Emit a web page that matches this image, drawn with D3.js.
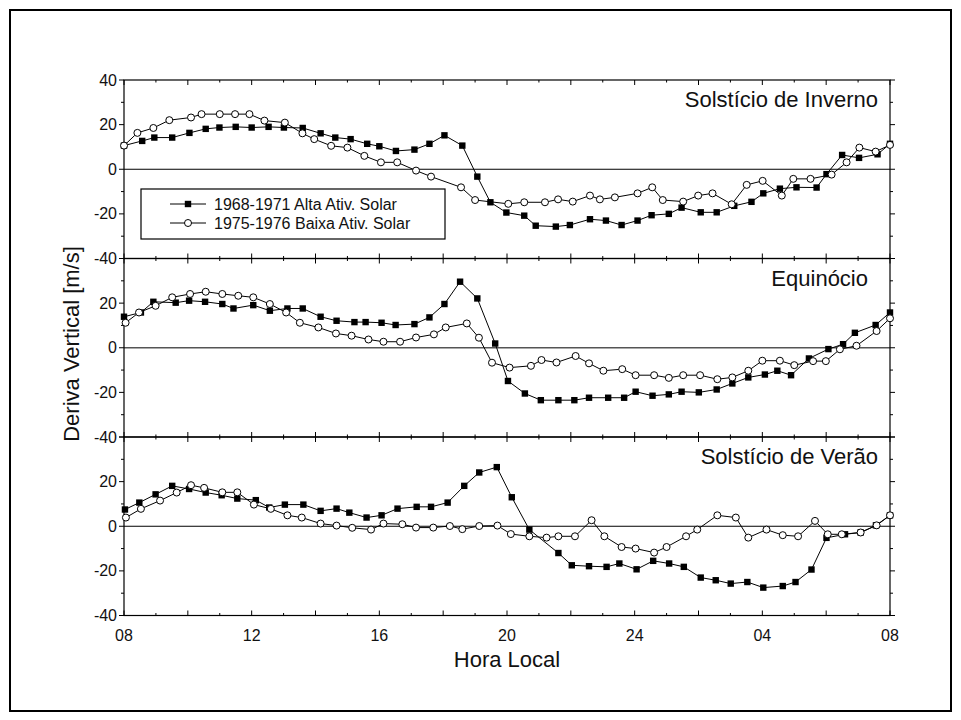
<!DOCTYPE html>
<html>
<head>
<meta charset="utf-8">
<script src="https://cdn.jsdelivr.net/npm/d3@7"></script>
<style>
  body { margin: 0; background: #fff; }
  svg text { font-family: Arial, "Liberation Sans", sans-serif; fill: #111; }
</style>
</head>
<body>
<svg id="chart" width="961" height="720"></svg>
<script>
// ---- data: [hora (08 -> 32 = 08 do dia seguinte), deriva m/s] ----
const invAlta = [[8.0,10.6],[8.57,12.7],[8.95,14.2],[9.51,14.2],[10.05,16.3],[10.56,18.1],[10.99,18.7],[11.5,19.0],[12.0,18.7],[12.53,19.0],[13.01,18.7],[13.6,18.5],[14.16,16.1],[14.62,14.2],[15.1,13.5],[15.62,11.4],[16.0,10.3],[16.52,8.2],[17.1,8.8],[17.57,11.4],[18.04,15.2],[18.6,10.6],[19.07,-3.3],[19.48,-14.8],[19.98,-19.4],[20.54,-20.8],[20.9,-25.3],[21.53,-25.7],[21.97,-25.0],[22.6,-22.4],[23.1,-23.0],[23.59,-25.0],[24.09,-23.0],[24.53,-20.6],[25.07,-20.0],[25.47,-17.2],[26.07,-19.3],[26.57,-19.3],[27.12,-16.4],[27.66,-14.6],[28.03,-10.8],[28.55,-8.7],[29.07,-8.1],[29.7,-8.2],[30.01,-2.2],[30.5,6.4],[31.03,5.1],[31.61,6.7],[32.0,11.4]];
const invBaixa = [[8.0,10.6],[8.42,16.3],[8.92,18.5],[9.42,22.0],[10.1,23.2],[10.43,24.7],[11.0,24.7],[11.48,24.7],[11.93,24.7],[12.4,21.8],[13.04,20.9],[13.59,16.1],[13.96,13.5],[14.49,10.5],[15.0,9.7],[15.53,6.0],[16.05,3.1],[16.56,3.1],[17.15,-0.6],[17.62,-3.3],[18.56,-8.1],[19.0,-13.8],[20.04,-15.5],[20.54,-14.8],[21.19,-14.8],[21.6,-13.5],[22.06,-14.5],[22.6,-11.8],[22.91,-13.5],[23.38,-12.6],[24.09,-10.8],[24.55,-8.1],[24.88,-13.8],[25.52,-14.5],[25.99,-11.8],[26.44,-10.8],[27.04,-15.7],[27.51,-7.0],[28.01,-5.2],[28.61,-11.8],[28.97,-4.3],[29.51,-4.3],[30.17,-2.4],[30.64,3.1],[31.04,9.7],[31.55,7.9],[32.0,10.9]];
const eqAlta = [[8.0,13.9],[8.53,15.8],[8.92,20.6],[9.62,20.2],[10.04,21.1],[10.54,20.6],[11.08,19.6],[11.43,17.6],[12.05,19.1],[12.57,16.6],[13.12,17.6],[13.6,17.6],[14.16,13.9],[14.66,12.1],[15.22,11.5],[15.57,11.5],[16.07,11.2],[16.51,10.2],[17.1,10.6],[17.57,13.6],[18.04,19.6],[18.53,29.6],[19.07,22.1],[19.63,1.9],[20.03,-14.9],[20.56,-20.5],[21.06,-23.5],[21.61,-23.5],[22.11,-23.5],[22.57,-22.4],[23.17,-22.4],[23.67,-22.4],[24.03,-19.7],[24.56,-21.5],[25.07,-20.9],[25.47,-19.7],[26.01,-20.0],[26.57,-18.7],[27.06,-16.0],[27.56,-13.3],[28.08,-12.0],[28.47,-10.3],[28.9,-12.3],[29.46,-4.8],[30.07,-0.6],[30.53,1.6],[30.9,6.7],[31.55,10.2],[32.0,15.8]];
const eqBaixa = [[8.05,11.2],[8.47,15.8],[8.99,18.8],[9.51,22.6],[10.07,24.1],[10.56,25.1],[11.08,24.1],[11.58,23.3],[12.05,22.6],[12.57,19.6],[13.08,15.8],[13.51,11.2],[14.09,9.1],[14.64,6.4],[15.13,5.4],[15.66,3.7],[16.13,2.7],[16.65,2.7],[17.15,4.6],[17.71,6.0],[18.08,9.1],[18.74,10.9],[19.12,4.5],[19.53,-6.7],[20.08,-8.9],[20.75,-8.1],[21.08,-5.5],[21.55,-6.6],[22.15,-3.7],[22.57,-7.0],[23.02,-10.3],[23.61,-9.6],[24.03,-12.3],[24.61,-12.3],[25.07,-13.5],[25.52,-12.3],[26.05,-12.3],[26.59,-14.1],[27.06,-13.3],[27.56,-10.3],[28.0,-5.8],[28.55,-5.8],[29.0,-7.8],[29.59,-6.0],[29.99,-6.0],[30.43,-0.7],[30.95,0.9],[31.58,7.5],[32.0,13.2]];
const verAlta = [[8.03,7.5],[8.48,10.6],[8.99,14.3],[9.51,18.1],[10.04,16.7],[10.56,15.1],[11.06,13.9],[11.55,12.4],[12.13,11.7],[12.55,8.4],[13.04,9.7],[13.62,9.7],[14.16,6.9],[14.66,7.9],[15.06,6.1],[15.6,3.9],[16.07,4.9],[16.57,7.9],[17.17,8.7],[17.62,8.7],[18.14,10.6],[18.66,18.1],[19.13,24.1],[19.68,26.5],[20.15,13.0],[20.7,-1.5],[21.61,-12.0],[22.03,-17.5],[22.57,-17.9],[23.12,-18.2],[23.52,-16.7],[24.06,-19.3],[24.58,-15.5],[25.08,-16.7],[25.54,-18.2],[26.07,-23.0],[26.54,-24.2],[27.01,-25.7],[27.53,-25.0],[28.03,-27.5],[28.64,-26.8],[29.04,-25.0],[29.54,-19.4],[30.01,-5.2],[30.59,-3.6],[31.08,-2.8],[31.56,0.4],[32.0,4.9]];
const verBaixa = [[8.06,3.9],[8.53,7.8],[9.13,11.5],[9.65,15.1],[10.1,18.4],[10.51,17.2],[11.08,15.2],[11.55,15.2],[12.07,9.7],[12.6,7.8],[13.12,4.9],[13.57,3.9],[14.16,1.2],[14.66,0.3],[15.15,-0.7],[15.74,-1.5],[16.13,1.2],[16.72,0.9],[17.15,-0.6],[17.69,-0.6],[18.21,0.1],[18.6,-1.3],[19.13,0.1],[19.7,0.3],[20.12,-3.5],[20.7,-4.5],[21.24,-5.1],[21.61,-4.5],[22.13,-4.5],[22.65,2.7],[23.05,-4.5],[23.59,-9.3],[24.03,-10.0],[24.61,-11.8],[25.0,-9.3],[25.61,-4.5],[25.96,-1.5],[26.59,4.9],[27.17,3.9],[27.56,-5.1],[28.13,-1.5],[28.64,-4.0],[29.12,-4.5],[29.65,2.4],[30.05,-3.6],[30.49,-3.6],[31.08,-2.8],[31.58,0.4],[32.0,4.9]];

const panelTitles = ["Solstício de Inverno", "Equinócio", "Solstício de Verão"];
const seriesNames = ["1968-1971 Alta Ativ. Solar", "1975-1976 Baixa Ativ. Solar"];
const xTickValues = [8, 12, 16, 20, 24, 28, 32];
const xTickLabels = ["08", "12", "16", "20", "24", "04", "08"];
const yTickTop = [40, 20, 0, -20, -40];
const yTickOther = [20, 0, -20, -40];

const panels = [
  { title: panelTitles[0], alta: invAlta, baixa: invBaixa, yTicks: yTickTop },
  { title: panelTitles[1], alta: eqAlta, baixa: eqBaixa, yTicks: yTickOther },
  { title: panelTitles[2], alta: verAlta, baixa: verBaixa, yTicks: yTickOther }
];

const svg = d3.select("#chart");

// outer frame
svg.append("rect")
  .attr("x", 10).attr("y", 10).attr("width", 941).attr("height", 701)
  .attr("fill", "none").attr("stroke", "#000").attr("stroke-width", 2);

const left = 124, right = 890, top0 = 80, panelH = 178.5;
const x = d3.scaleLinear().domain([8, 32]).range([left, right]);

const hourTicks = d3.range(8, 33, 1);
const twoHourTicks = d3.range(8, 33, 2);

panels.forEach((p, k) => {
  const y0 = top0 + k * panelH, y1 = y0 + panelH;
  const y = d3.scaleLinear().domain([-40, 40]).range([y1, y0]);
  const g = svg.append("g");

  // zero line
  g.append("line")
    .attr("x1", left).attr("x2", right)
    .attr("y1", y(0)).attr("y2", y(0))
    .attr("stroke", k === 1 ? "#555" : "#000")
    .attr("stroke-width", k === 1 ? 1.5 : 1);

  // inward x ticks, top & bottom of each panel
  [[y1, -1], [y0, 1]].forEach(([yy, dir]) => {
    hourTicks.forEach(h => {
      const len = (h % 2 === 0) ? 5 : 2.5;
      g.append("line")
        .attr("x1", x(h)).attr("x2", x(h))
        .attr("y1", yy).attr("y2", yy + dir * len)
        .attr("stroke", "#000").attr("stroke-width", 1);
    });
  });

  // left / right y ticks (outward)
  d3.range(-40, 41, 10).forEach(v => {
    const len = (v % 20 === 0) ? 5 : 3;
    g.append("line").attr("x1", left - len).attr("x2", left)
      .attr("y1", y(v)).attr("y2", y(v)).attr("stroke", "#000");
    g.append("line").attr("x1", right).attr("x2", right + len)
      .attr("y1", y(v)).attr("y2", y(v)).attr("stroke", "#000");
  });

  // panel frame
  g.append("rect")
    .attr("x", left).attr("y", y0).attr("width", right - left).attr("height", panelH)
    .attr("fill", "none").attr("stroke", "#000").attr("stroke-width", 1.2);

  // y tick labels
  p.yTicks.forEach(v => {
    g.append("text")
      .attr("x", left - 7).attr("y", y(v) + 5.5)
      .attr("text-anchor", "end")
      .attr("font-size", "16px")
      .text(v);
  });

  const line = d3.line().x(d => x(d[0])).y(d => y(d[1]));

  // series: alta (filled square), baixa (open circle)
  g.append("path").datum(p.alta)
    .attr("fill", "none").attr("stroke", "#000").attr("stroke-width", 1)
    .attr("d", line);
  g.append("path").datum(p.baixa)
    .attr("fill", "none").attr("stroke", "#000").attr("stroke-width", 1)
    .attr("d", line);

  g.selectAll(".sq").data(p.alta).enter().append("rect")
    .attr("x", d => x(d[0]) - 3.2).attr("y", d => y(d[1]) - 3.2)
    .attr("width", 6.4).attr("height", 6.4)
    .attr("fill", "#000");
  g.selectAll(".ci").data(p.baixa).enter().append("circle")
    .attr("cx", d => x(d[0])).attr("cy", d => y(d[1]))
    .attr("r", 3.5)
    .attr("fill", "#fff").attr("stroke", "#000").attr("stroke-width", 1);

  // panel title
  g.append("text")
    .attr("x", k === 1 ? 868 : 878)
    .attr("y", y0 + 27)
    .attr("text-anchor", "end")
    .attr("font-size", "22px")
    .text(p.title);
});

// x tick labels
const yBottom = top0 + 3 * panelH;
xTickValues.forEach((v, i) => {
  svg.append("text")
    .attr("x", x(v)).attr("y", yBottom + 25)
    .attr("text-anchor", "middle")
    .attr("font-size", "16px")
    .text(xTickLabels[i]);
});

// axis titles
svg.append("text")
  .attr("x", (left + right) / 2).attr("y", 667)
  .attr("text-anchor", "middle")
  .attr("font-size", "22px")
  .text("Hora Local");

svg.append("text")
  .attr("transform", "translate(79,344) rotate(-90)")
  .attr("text-anchor", "middle")
  .attr("font-size", "22px")
  .text("Deriva Vertical [m/s]");

// legend
const lg = svg.append("g");
lg.append("rect")
  .attr("x", 141).attr("y", 189).attr("width", 304).attr("height", 50)
  .attr("fill", "#fff").attr("stroke", "#000").attr("stroke-width", 1.2);
seriesNames.forEach((name, i) => {
  const ly = 204 + i * 19;
  lg.append("line").attr("x1", 170).attr("x2", 206)
    .attr("y1", ly).attr("y2", ly).attr("stroke", "#000");
  if (i === 0) {
    lg.append("rect").attr("x", 184.8).attr("y", ly - 3.2)
      .attr("width", 6.4).attr("height", 6.4).attr("fill", "#000");
  } else {
    lg.append("circle").attr("cx", 188).attr("cy", ly).attr("r", 3.5)
      .attr("fill", "#fff").attr("stroke", "#000");
  }
  lg.append("text")
    .attr("x", 214).attr("y", ly + 6)
    .attr("font-size", "16px")
    .text(name);
});
</script>
</body>
</html>
